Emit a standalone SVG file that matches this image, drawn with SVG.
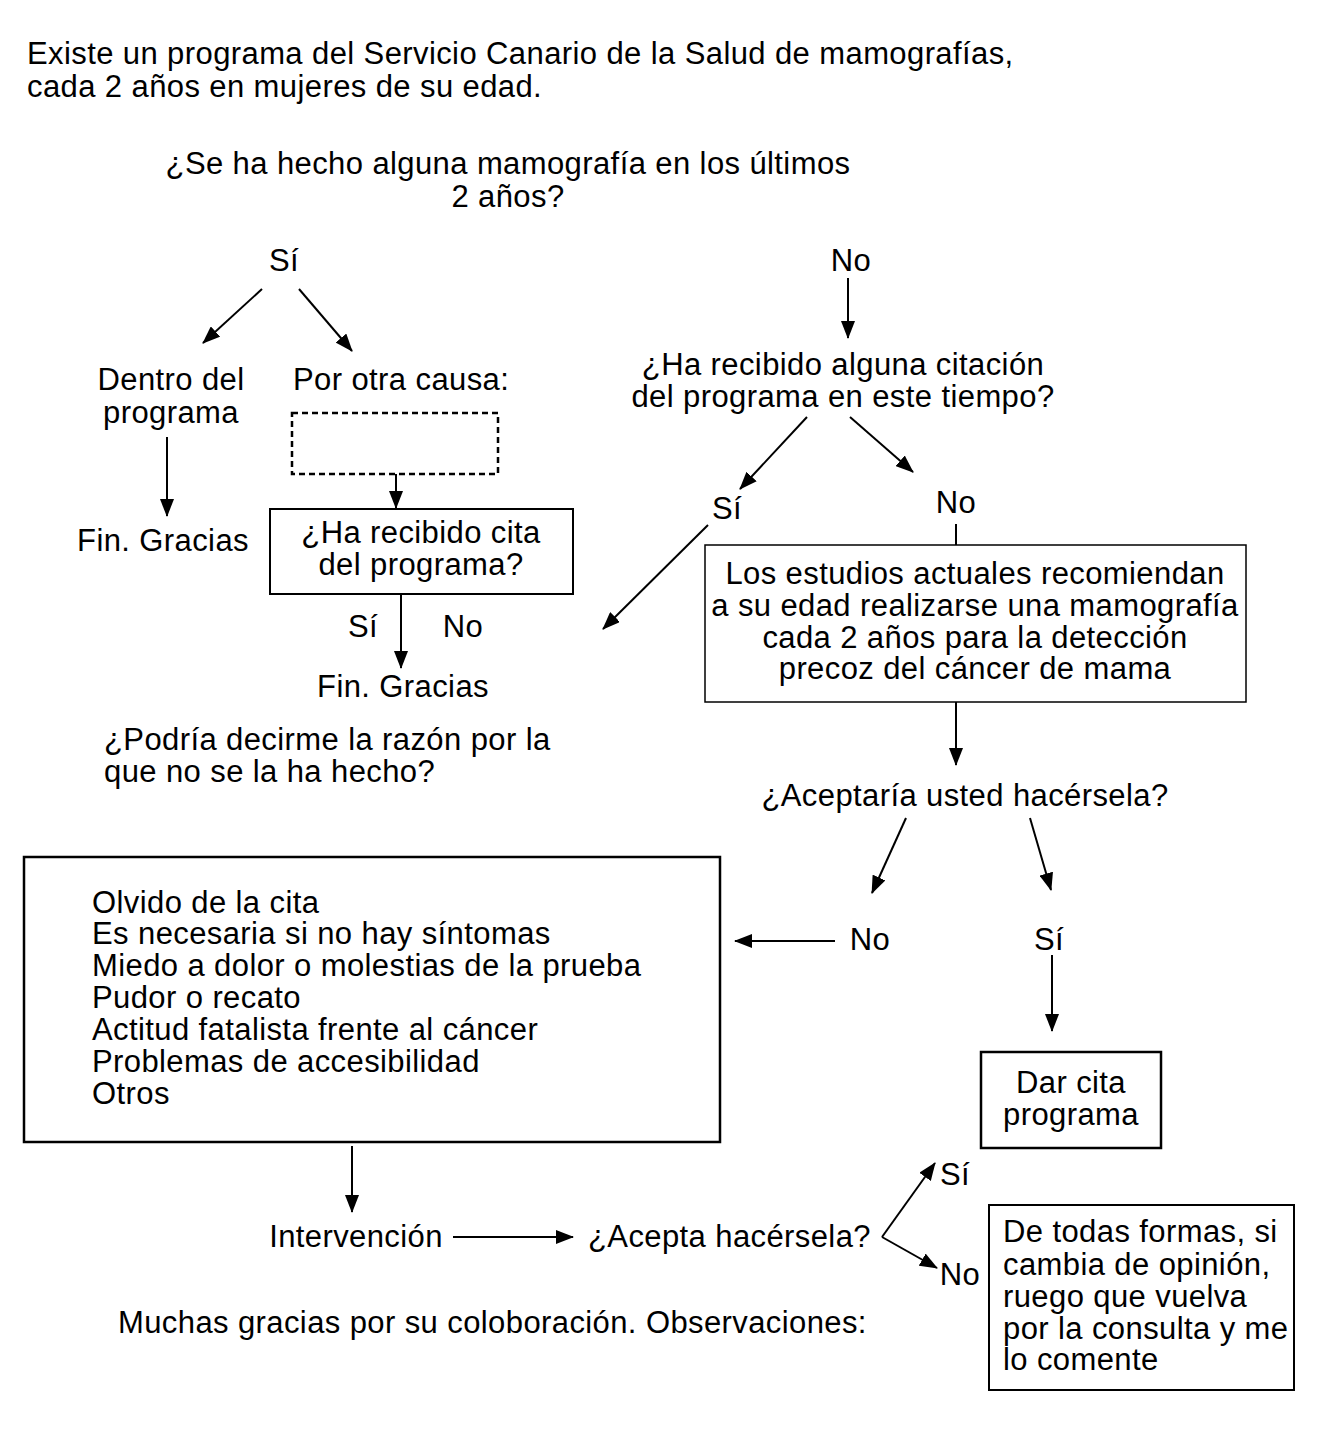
<svg xmlns="http://www.w3.org/2000/svg" width="1323" height="1434" viewBox="0 0 1323 1434">
<defs>
<marker id="ah" markerUnits="userSpaceOnUse" markerWidth="18" markerHeight="14" refX="17" refY="7" orient="auto">
<path d="M0,0 L18,7 L0,14 Z" fill="#000"/>
</marker>
<style>
text{font-family:"Liberation Sans",Arial,sans-serif;font-size:31px;letter-spacing:0.4px;fill:#000}
.c{text-anchor:middle}
.box{fill:none;stroke:#000;stroke-width:2}
.ln{fill:none;stroke:#000;stroke-width:2}
.ar{fill:none;stroke:#000;stroke-width:2;marker-end:url(#ah)}
</style>
</defs>
<rect width="1323" height="1434" fill="#fff"/>

<g id="intro">
<text x="27" y="64">Existe un programa del Servicio Canario de la Salud de mamografías,</text>
<text x="27" y="97">cada 2 años en mujeres de su edad.</text>
</g>
<g id="q1">
<text class="c" x="508" y="174">¿Se ha hecho alguna mamografía en los últimos</text>
<text class="c" x="508" y="207">2 años?</text>
</g>
<g id="si1"><text class="c" x="284" y="271">Sí</text></g>
<g id="no1"><text class="c" x="851" y="271">No</text></g>
<g id="dentro">
<text class="c" x="171" y="390">Dentro del</text>
<text class="c" x="171" y="423">programa</text>
</g>
<g id="otra"><text x="293" y="390">Por otra causa:</text></g>
<g id="dashed"><rect x="292" y="413" width="206" height="61" fill="none" stroke="#000" stroke-width="2.5" stroke-dasharray="6,4"/></g>
<g id="fin1"><text class="c" x="163" y="551">Fin. Gracias</text></g>
<g id="cita">
<rect class="box" x="270" y="509" width="303" height="85"/>
<text class="c" x="421" y="543">¿Ha recibido cita</text>
<text class="c" x="421" y="575">del programa?</text>
</g>
<g id="si2"><text class="c" x="363" y="637">Sí</text></g>
<g id="no2"><text class="c" x="463" y="637">No</text></g>
<g id="fin2"><text class="c" x="403" y="697">Fin. Gracias</text></g>
<g id="podria">
<text x="104" y="750">¿Podría decirme la razón por la</text>
<text x="104" y="782">que no se la ha hecho?</text>
</g>
<g id="q2">
<text class="c" x="843" y="375">¿Ha recibido alguna citación</text>
<text class="c" x="843" y="407">del programa en este tiempo?</text>
</g>
<g id="si3"><text class="c" x="727" y="519">Sí</text></g>
<g id="no3"><text class="c" x="956" y="513">No</text></g>
<g id="estudios">
<rect x="705" y="545" width="541" height="157" fill="none" stroke="#000" stroke-width="1.5"/>
<text class="c" x="975" y="584">Los estudios actuales recomiendan</text>
<text class="c" x="975" y="616">a su edad realizarse una mamografía</text>
<text class="c" x="975" y="648">cada 2 años para la detección</text>
<text class="c" x="975" y="679">precoz del cáncer de mama</text>
</g>
<g id="acept"><text class="c" x="965" y="806">¿Aceptaría usted hacérsela?</text></g>
<g id="no4"><text class="c" x="870" y="950">No</text></g>
<g id="si4"><text class="c" x="1049" y="950">Sí</text></g>
<g id="dar">
<rect x="981" y="1052" width="180" height="96" fill="none" stroke="#000" stroke-width="2.5"/>
<text class="c" x="1071" y="1093">Dar cita</text>
<text class="c" x="1071" y="1125">programa</text>
</g>
<g id="razones">
<rect x="24" y="857" width="696" height="285" fill="none" stroke="#000" stroke-width="2.5"/>
<text x="92" y="913">Olvido de la cita</text>
<text x="92" y="944">Es necesaria si no hay síntomas</text>
<text x="92" y="976">Miedo a dolor o molestias de la prueba</text>
<text x="92" y="1008">Pudor o recato</text>
<text x="92" y="1040">Actitud fatalista frente al cáncer</text>
<text x="92" y="1072">Problemas de accesibilidad</text>
<text x="92" y="1104">Otros</text>
</g>
<g id="interv"><text class="c" x="356" y="1247">Intervención</text></g>
<g id="acepta2"><text x="588" y="1247">¿Acepta hacérsela?</text></g>
<g id="si5"><text class="c" x="955" y="1185">Sí</text></g>
<g id="no5"><text class="c" x="960" y="1285">No</text></g>
<g id="todas">
<rect class="box" x="989" y="1205" width="305" height="185"/>
<text x="1003" y="1242">De todas formas, si</text>
<text x="1003" y="1275">cambia de opinión,</text>
<text x="1003" y="1307">ruego que vuelva</text>
<text x="1003" y="1339">por la consulta y me</text>
<text x="1003" y="1370">lo comente</text>
</g>
<g id="gracias"><text x="118" y="1333">Muchas gracias por su coloboración. Observaciones:</text></g>

<g id="connectors">
<line class="ar" x1="262" y1="289" x2="203" y2="343"/>
<line class="ar" x1="299" y1="289" x2="352" y2="351"/>
<line class="ar" x1="848" y1="278" x2="848" y2="338"/>
<line class="ar" x1="167" y1="437" x2="167" y2="516"/>
<line class="ar" x1="396" y1="474" x2="396" y2="508"/>
<line class="ar" x1="401" y1="594" x2="401" y2="668"/>
<line class="ar" x1="807" y1="417" x2="740" y2="489"/>
<line class="ar" x1="850" y1="417" x2="913" y2="472"/>
<line class="ln" x1="956" y1="524" x2="956" y2="545"/>
<line class="ar" x1="708" y1="525" x2="603" y2="629"/>
<line class="ar" x1="956" y1="702" x2="956" y2="765"/>
<line class="ar" x1="906" y1="818" x2="872" y2="893"/>
<line class="ar" x1="1030" y1="818" x2="1051" y2="890"/>
<line class="ar" x1="835" y1="941" x2="735" y2="941"/>
<line class="ar" x1="1052" y1="955" x2="1052" y2="1031"/>
<line class="ar" x1="352" y1="1146" x2="352" y2="1212"/>
<line class="ar" x1="453" y1="1237" x2="573" y2="1237"/>
<polyline class="ar" points="882,1237 935,1163"/>
<polyline class="ar" points="882,1237 937,1268"/>
</g>
</svg>
